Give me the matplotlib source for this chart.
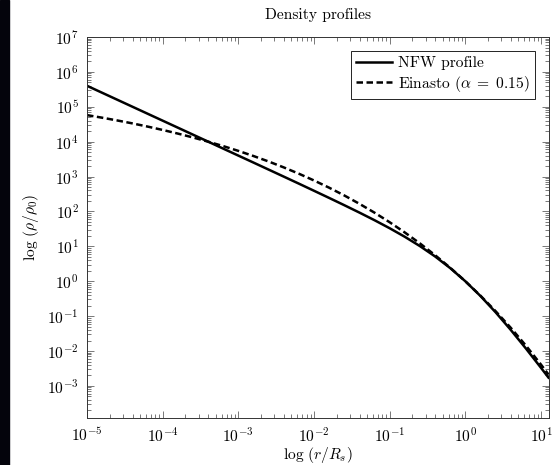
import numpy as np
import matplotlib
matplotlib.use('Agg')
import matplotlib.pyplot as plt
from matplotlib.patches import Rectangle
from matplotlib.ticker import LogLocator, NullFormatter

# log10 of r/R_s where the curves were read
log_r = [-5.0, -4.8, -4.6, -4.4, -4.2, -4.0, -3.8, -3.6, -3.4, -3.2,
         -3.0, -2.8, -2.6, -2.4, -2.2, -2.0, -1.8, -1.6, -1.4, -1.2,
         -1.0, -0.8, -0.6, -0.4, -0.2, 0.0, 0.2, 0.4, 0.6, 0.8, 1.0, 1.1]

# log10 of rho/rho_0
log_nfw = [5.602, 5.402, 5.202, 5.002, 4.802, 4.602, 4.402, 4.202, 4.002, 3.801,
           3.601, 3.401, 3.200, 2.999, 2.797, 2.593, 2.388, 2.180, 1.968, 1.749,
           1.519, 1.274, 1.007, 0.711, 0.377, 0.000, -0.423, -0.889, -1.393, -1.926,
           -2.481, -2.764]
log_einasto = [4.761, 4.687, 4.608, 4.524, 4.433, 4.336, 4.232, 4.121, 4.001, 3.873,
               3.736, 3.589, 3.432, 3.263, 3.082, 2.888, 2.681, 2.459, 2.220, 1.965,
               1.691, 1.398, 1.084, 0.747, 0.387, 0.000, -0.414, -0.858, -1.333, -1.843,
               -2.389, -2.676]

labels = ['NFW profile', r'Einasto ($\alpha\;=\;0.15$)']

plt.rcParams['font.family'] = 'cmr10'
plt.rcParams['mathtext.fontset'] = 'cm'
plt.rcParams['axes.formatter.use_mathtext'] = True
fs = 11.2

r = 10.0 ** np.array(log_r)
rho_nfw = 10.0 ** np.array(log_nfw)
rho_ein = 10.0 ** np.array(log_einasto)

fig = plt.figure(figsize=(5.56, 4.65), dpi=100)
ax = fig.add_axes([87 / 556, 1 - 418 / 465, 462 / 556, 381 / 465])

ax.plot(r, rho_nfw, color='black', lw=1.8, label=labels[0])
ax.plot(r, rho_ein, color='black', lw=1.8, dashes=(2.6, 1.4), label=labels[1])

ax.set_xscale('log')
ax.set_yscale('log')
ax.set_xlim(1e-5, 10 ** 1.106)
ax.set_ylim(10 ** -3.92, 1e7)

ax.xaxis.set_major_locator(LogLocator(base=10, numticks=20))
ax.yaxis.set_major_locator(LogLocator(base=10, numticks=20))
ax.xaxis.set_minor_locator(LogLocator(base=10, subs=np.arange(2, 10), numticks=20))
ax.yaxis.set_minor_locator(LogLocator(base=10, subs=np.arange(2, 10), numticks=20))
ax.xaxis.set_minor_formatter(NullFormatter())
ax.yaxis.set_minor_formatter(NullFormatter())

ax.tick_params(which='both', direction='in', top=True, right=True,
               color='#444444', width=0.5)
ax.tick_params(which='major', length=5, labelsize=fs, pad=6)
ax.tick_params(which='minor', length=3)
for s in ax.spines.values():
    s.set_linewidth(0.7)
    s.set_color('#333333')

ax.set_title('Density profiles', fontsize=fs, pad=13)
ax.set_xlabel(r'$\log\,\left(r/R_s\right)$', fontsize=fs, labelpad=0)
ax.set_ylabel(r'$\log\,\left(\rho/\rho_0\right)$', fontsize=fs, labelpad=4)

leg = ax.legend(loc='upper right', fancybox=False, edgecolor='black',
                framealpha=1, fontsize=fs, handlelength=2.3,
                borderaxespad=0.9, borderpad=0.35, labelspacing=0.2,
                handletextpad=0.4)
leg.get_frame().set_linewidth(0.6)

# dark strip at the left edge of the screenshot
fig.patches.append(Rectangle((0, 0), 9 / 556, 1, transform=fig.transFigure,
                             color='#04040c', zorder=-1))

fig.savefig('out.png', dpi=100)
